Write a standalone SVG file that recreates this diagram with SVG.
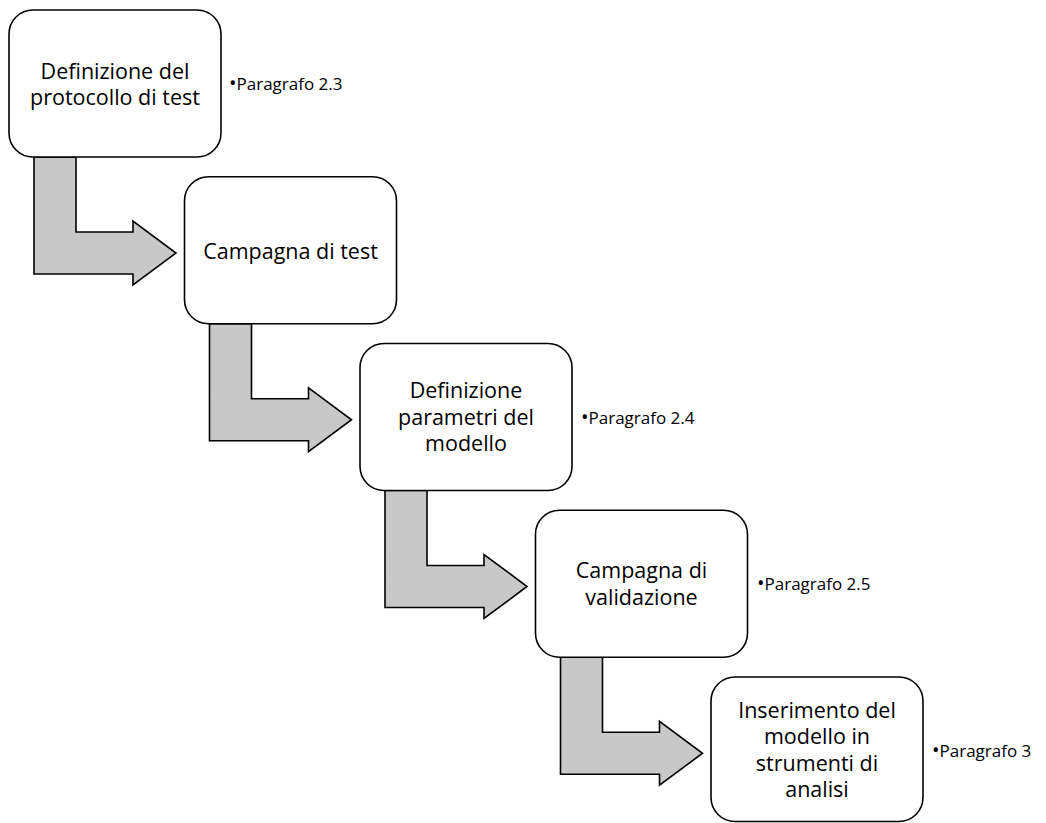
<svg xmlns="http://www.w3.org/2000/svg" width="1046" height="823" viewBox="0 0 1046 823">
<style>
  .box { fill: #ffffff; stroke: #000000; stroke-width: 1.6; }
  .arrow { fill: #c8c8c8; stroke: #000000; stroke-width: 1.6; stroke-linejoin: miter; }
  .t { font-family: "Open Sans", "Noto Sans", "Liberation Sans", sans-serif; font-size: 21.5px; fill: #000000; text-anchor: middle; }
  .lbl { font-family: "Open Sans", "Noto Sans", "Liberation Sans", sans-serif; font-size: 17px; fill: #000000; }
  .bul { font-size: 20px; }
</style>
<defs>
  <path id="bentArrow" d="M0,0 L42,0 L42,75 L99,75 L99,64 L142,96 L99,128 L99,117 L0,117 Z"/>
</defs>
<rect width="1046" height="823" fill="#ffffff"/>
<g id="connectors">
  <use href="#bentArrow" class="arrow" transform="translate(34,157)"/>
  <use href="#bentArrow" class="arrow" transform="translate(209.5,323.75)"/>
  <use href="#bentArrow" class="arrow" transform="translate(385,490.5)"/>
  <use href="#bentArrow" class="arrow" transform="translate(560.5,657.25)"/>
</g>
<g id="node1">
  <rect class="box" x="9" y="10" width="212" height="147" rx="24" ry="24"/>
  <text class="t" x="115" y="78.5">Definizione del</text>
  <text class="t" x="115" y="105">protocollo di test</text>
  <text class="lbl" x="229" y="90"><tspan class="bul">•</tspan>Paragrafo 2.3</text>
</g>
<g id="node2">
  <rect class="box" x="184.5" y="176.75" width="212" height="147" rx="24" ry="24"/>
  <text class="t" x="290.5" y="259">Campagna di test</text>
</g>
<g id="node3">
  <rect class="box" x="360" y="343.5" width="212" height="147" rx="24" ry="24"/>
  <text class="t" x="466" y="398">Definizione</text>
  <text class="t" x="466" y="424.5">parametri del</text>
  <text class="t" x="466" y="451">modello</text>
  <text class="lbl" x="581" y="423.5"><tspan class="bul">•</tspan>Paragrafo 2.4</text>
</g>
<g id="node4">
  <rect class="box" x="535.5" y="510.25" width="212" height="147" rx="24" ry="24"/>
  <text class="t" x="641.5" y="578">Campagna di</text>
  <text class="t" x="641.5" y="604.5">validazione</text>
  <text class="lbl" x="757" y="589.5"><tspan class="bul">•</tspan>Paragrafo 2.5</text>
</g>
<g id="node5">
  <rect class="box" x="711" y="677" width="212" height="144.5" rx="24" ry="24"/>
  <text class="t" x="817" y="717.5">Inserimento del</text>
  <text class="t" x="817" y="744">modello in</text>
  <text class="t" x="817" y="770.5">strumenti di</text>
  <text class="t" x="817" y="797">analisi</text>
  <text class="lbl" x="932" y="757"><tspan class="bul">•</tspan>Paragrafo 3</text>
</g>
</svg>
